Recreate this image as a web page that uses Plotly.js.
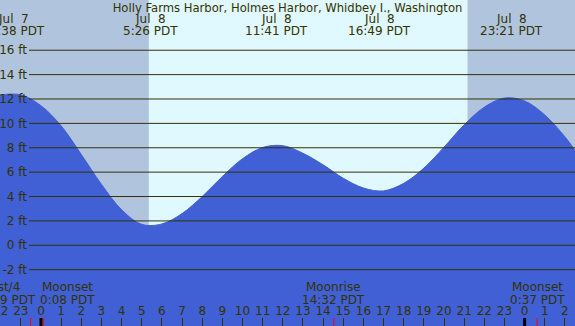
<!DOCTYPE html>
<html><head><meta charset="utf-8">
<script src="https://cdn.plot.ly/plotly-3.0.1.min.js"></script>
<style>html,body{margin:0;padding:0;overflow:hidden;background:#b0c4de}</style>
</head><body><div id="chart" style="width:575px;height:326px"></div>
<script>
const stationTitle = "Holly Farms Harbor, Holmes Harbor, Whidbey I., Washington";

const tideTimes = [
  "2011-07-07 21:58","2011-07-07 23:00","2011-07-08 00:00","2011-07-08 01:00",
  "2011-07-08 02:00","2011-07-08 03:00","2011-07-08 04:00","2011-07-08 05:00",
  "2011-07-08 06:00","2011-07-08 07:00","2011-07-08 08:00","2011-07-08 09:00",
  "2011-07-08 10:00","2011-07-08 11:00","2011-07-08 12:00","2011-07-08 13:00",
  "2011-07-08 14:00","2011-07-08 15:00","2011-07-08 16:00","2011-07-08 17:00",
  "2011-07-08 18:00","2011-07-08 19:00","2011-07-08 20:00","2011-07-08 21:00",
  "2011-07-08 22:00","2011-07-08 23:00","2011-07-09 00:00","2011-07-09 01:00",
  "2011-07-09 02:00","2011-07-09 02:30"];
const tideHeights = [
  12.33, 12.34, 11.45, 9.8,
  7.45, 5.0, 2.92, 1.72,
  1.75, 2.6, 4.0, 5.64,
  7.1, 8.02, 8.17, 7.55,
  6.6, 5.5, 4.7, 4.46,
  5.08, 6.33, 8.05, 9.88,
  11.33, 12.08, 11.84, 10.69,
  8.9, 7.8];

const extremaTimes = ["2011-07-07 22:38","2011-07-08 05:26","2011-07-08 11:41","2011-07-08 16:49","2011-07-08 23:21"];
const extremaDates = ["Jul\u00a0 7","Jul\u00a0 8","Jul\u00a0 8","Jul\u00a0 8","Jul\u00a0 8"];
const extremaLabels = ["22:38 PDT","5:26 PDT","11:41 PDT","16:49 PDT","23:21 PDT"];

const moonTimes = ["2011-07-07 23:29","2011-07-08 00:08","2011-07-08 14:32","2011-07-09 00:37"];
const moonEvents = ["1st/4","Moonset","Moonrise","Moonset"];
const moonLabels = ["23:29 PDT","0:08 PDT","14:32 PDT","0:37 PDT"];
const moonLabelShift = [-26, 23.5, 0, 0];

const midnights = ["2011-07-08 00:00","2011-07-09 00:00"];
const sunrise = "2011-07-08 05:21";
const sunset = "2011-07-08 21:10";

const heightTicks = [-2,0,2,4,6,8,10,12,14,16];
const heightTickLabels = heightTicks.map(v => v + " ft");

const xRange = ["2011-07-07 21:58","2011-07-09 02:30"];
const yRange = [-6.62, 20.12];

const W = 575, H = 326;
const ink = "#333300";
const font = {family: "DejaVu Sans", size: 12, color: ink};
const py = px => 1 - px / H;

const traces = [
  {x: xRange, y: [yRange[0] - 2, yRange[0] - 2], mode: "lines", line: {width: 0}, hoverinfo: "skip", showlegend: false},
  {x: tideTimes, y: tideHeights, mode: "lines", line: {color: "#4160d5", width: 1, shape: "spline", smoothing: 1},
   fill: "tonexty", fillcolor: "#4160d5", showlegend: false}
];

const shapes = [
  {type: "rect", xref: "x", yref: "paper", x0: sunrise, x1: sunset, y0: 0, y1: 1,
   fillcolor: "#e0f8ff", line: {width: 0}, layer: "below"}
];
heightTicks.forEach(v => shapes.push({type: "line", xref: "paper", yref: "y", x0: 29 / W, x1: 1, y0: v, y1: v,
  line: {color: ink, width: 1}, layer: "above"}));
midnights.forEach(t => shapes.push({type: "line", xref: "x", yref: "paper", x0: t, x1: t, y0: 0, y1: 8 / H,
  line: {color: "#000000", width: 3}, layer: "above"}));
moonTimes.forEach(t => shapes.push({type: "line", xref: "x", yref: "paper", x0: t, x1: t, y0: 0, y1: 8 / H,
  line: {color: "#ff0000", width: 1}, layer: "above"}));

const annotations = [];
extremaTimes.forEach((t, i) => {
  annotations.push({x: t, xref: "x", y: py(19), yref: "paper", yanchor: "middle", xanchor: "center",
    text: extremaDates[i], showarrow: false, font: font});
  annotations.push({x: t, xref: "x", y: py(31), yref: "paper", yanchor: "middle", xanchor: "center",
    text: extremaLabels[i], showarrow: false, font: font});
});
moonTimes.forEach((t, i) => {
  annotations.push({x: t, xref: "x", y: py(287), yref: "paper", yanchor: "middle", xanchor: "center",
    xshift: moonLabelShift[i], text: moonEvents[i], showarrow: false, font: font});
  annotations.push({x: t, xref: "x", y: py(300), yref: "paper", yanchor: "middle", xanchor: "center",
    xshift: moonLabelShift[i], text: moonLabels[i], showarrow: false, font: font});
});

const layout = {
  width: W, height: H,
  margin: {l: 0, r: 0, t: 0, b: 0, pad: 0},
  paper_bgcolor: "#b0c4de", plot_bgcolor: "#b0c4de",
  font: font,
  title: {text: stationTitle, font: Object.assign({}, font, {size: 11.6}), x: 0.5, xanchor: "center", y: py(7.5), yanchor: "middle"},
  xaxis: {type: "date", range: xRange, showgrid: false, zeroline: false, showline: false,
    tickmode: "linear", tick0: "2011-07-08 00:00", dtick: 3600000, tickformat: "%-H",
    ticks: "inside", ticklen: 8, tickwidth: 1, tickcolor: ink,
    ticklabelposition: "inside", ticklabeloverflow: "allow", tickfont: font, fixedrange: true},
  yaxis: {range: yRange, anchor: "free", position: 27 / W, showgrid: false, zeroline: false, showline: false,
    tickmode: "array", tickvals: heightTicks, ticktext: heightTickLabels, ticks: "",
    tickfont: font, ticklabeloverflow: "allow", fixedrange: true},
  shapes: shapes,
  annotations: annotations,
  showlegend: false
};

Plotly.newPlot("chart", traces, layout, {displayModeBar: false, staticPlot: true});
</script></body></html>
